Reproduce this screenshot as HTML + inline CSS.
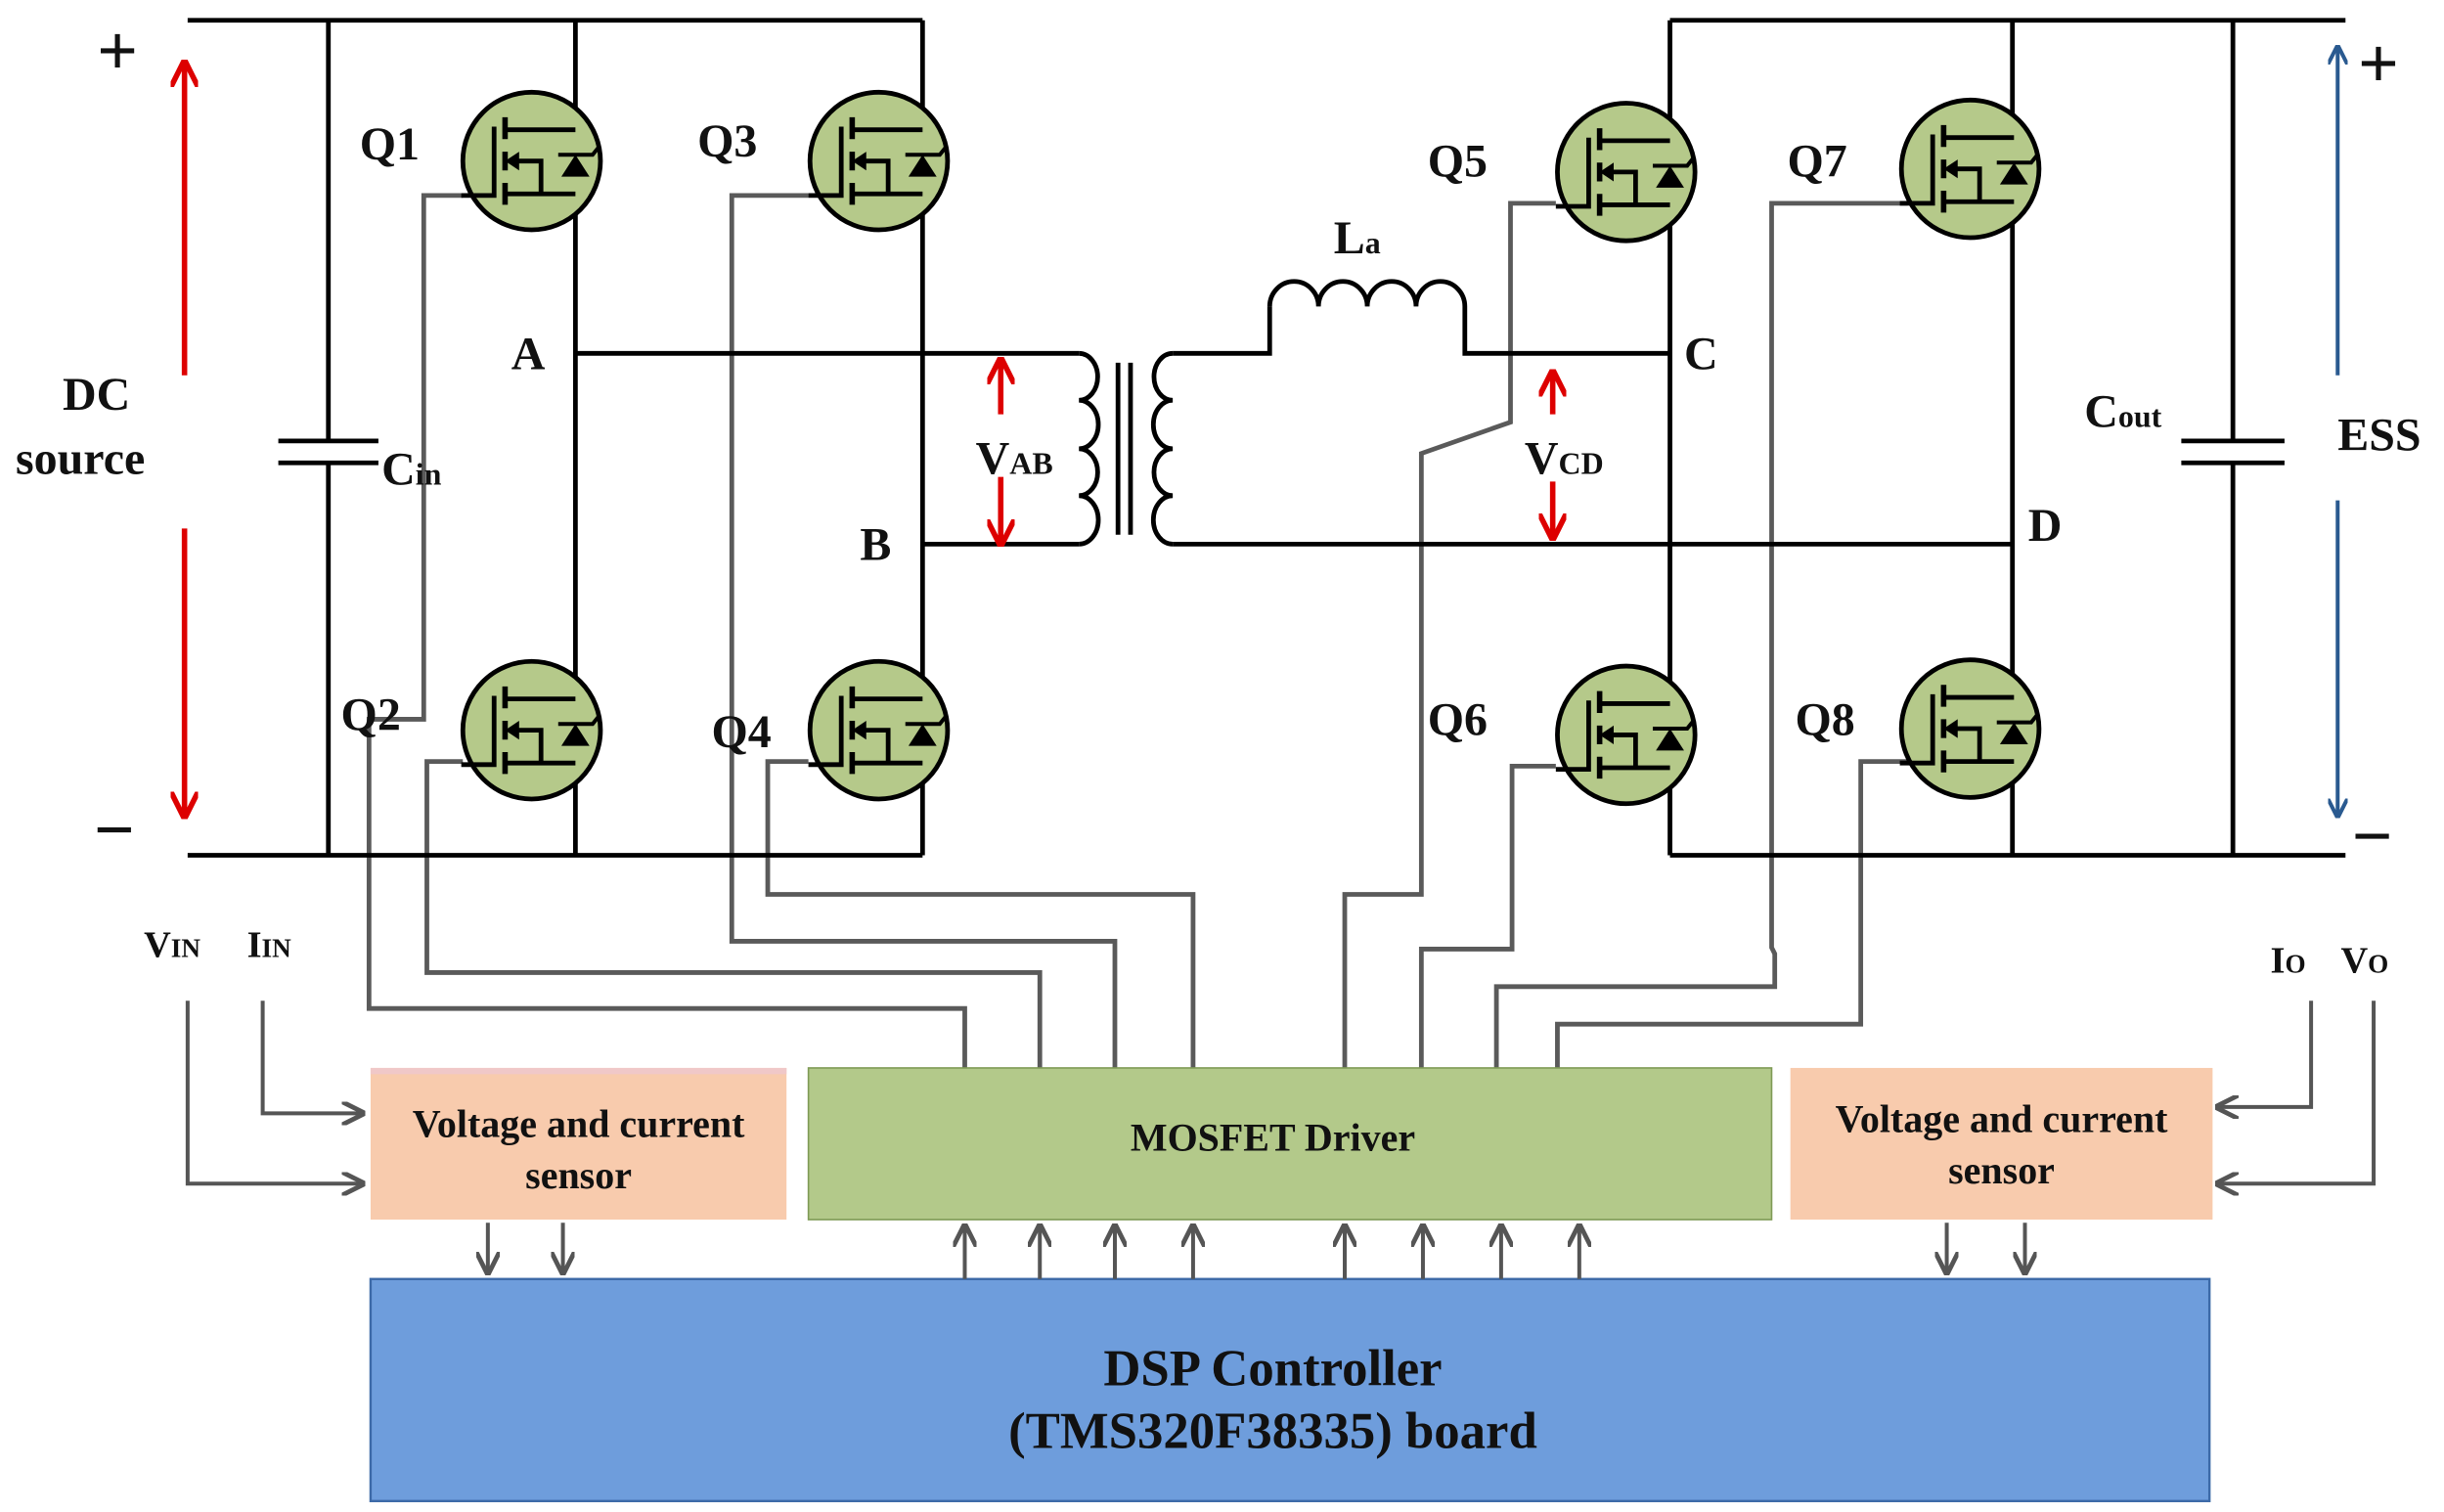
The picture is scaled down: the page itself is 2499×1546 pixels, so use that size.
<!DOCTYPE html>
<html><head><meta charset="utf-8"><style>
html,body{margin:0;padding:0;background:#fff;}
svg{display:block;}
text{font-family:"Liberation Serif",serif;font-weight:bold;fill:#111;}
</style></head><body>
<svg width="2499" height="1546" viewBox="0 0 1563 967" preserveAspectRatio="none" xmlns="http://www.w3.org/2000/svg">
<defs>
<g id="q">
<circle cx="0" cy="0" r="44" fill="#b5c98a" stroke="#000" stroke-width="3"/>
<path d="M-45,22 H-24 V-22" fill="none" stroke="#000" stroke-width="3"/>
<path d="M-17,-28 V-14 M-17,-6 V6 M-17,14 V28" stroke="#000" stroke-width="3.5"/>
<path d="M-17,-20 H28 M-17,21 H28 M-10,0 H6 V21" fill="none" stroke="#000" stroke-width="3"/>
<polygon points="-17,0 -8,-6 -8,6" fill="#000"/>
<polygon points="28,-4 19,10 37,10" fill="#000"/>
<path d="M17,-4 H39 L43,-9" fill="none" stroke="#000" stroke-width="2.5"/>
</g>
<marker id="ar" viewBox="0 0 10 10" refX="9" refY="5" markerWidth="6" markerHeight="6" orient="auto"><path d="M0,0 L10,5 L0,10" fill="none" stroke="#555" stroke-width="2"/></marker>
<marker id="rr" viewBox="0 0 10 10" refX="9" refY="5" markerWidth="5" markerHeight="5" orient="auto"><path d="M0,0 L10,5 L0,10" fill="none" stroke="#d00" stroke-width="2"/></marker>
<marker id="br" viewBox="0 0 10 10" refX="9" refY="5" markerWidth="5" markerHeight="5" orient="auto"><path d="M0,0 L10,5 L0,10" fill="none" stroke="#2a5a90" stroke-width="2"/></marker>
</defs>

<!-- gray gate wires -->
<g fill="none" stroke="#5a5a5a" stroke-width="3">
<path d="M296,125 H271 V460 H236 V645 H617 V683"/>
<path d="M296,487 H273 V622 H665 V683"/>
<path d="M517,125 H468 V602 H713 V683"/>
<path d="M517,487 H491 V572 H763 V683"/>
<path d="M995,130 H966 V270 L909,290 V572 H860 V683"/>
<path d="M995,490 H967 V607 H909 V683"/>
<path d="M1220,130 H1133 V606 L1135,610 V631 H957 V683"/>
<path d="M1220,487 H1190 V655 H996 V683"/>
</g>

<!-- black power circuit -->
<g fill="none" stroke="#000" stroke-width="3">
<path d="M120,13 H590 M120,547 H590"/>
<path d="M210,13 V282 M210,296 V547 M178,282 H242 M178,296 H242"/>
<path d="M368,13 V547 M590,13 V547"/>
<path d="M368,226 H690 M590,348 H690"/>
<path d="M690,226 a12,15 0 0 1 0,30 a12,15 0 0 1 0,31 a12,15 0 0 1 0,30 a12,15 0 0 1 0,31"/>
<path d="M715,232 V342 M723,232 V342"/>
<path d="M750,226 a12,15 0 0 0 0,30 a12,15 0 0 0 0,31 a12,15 0 0 0 0,30 a12,15 0 0 0 0,31"/>
<path d="M750,226 H780 V226 M780,226 H812 V196"/>
<path d="M812,196 a15.6,16 0 0 1 31.2,0 a15.6,16 0 0 1 31.2,0 a15.6,16 0 0 1 31.2,0 a15.6,16 0 0 1 31.2,0 V226 H1068"/>
<path d="M750,348 H1287"/>
<path d="M1068,13 H1500 M1068,547 H1500"/>
<path d="M1068,13 V547 M1287,13 V547"/>
<path d="M1428,13 V282 M1428,296 V547 M1395,282 H1461 M1395,296 H1461"/>
</g>

<use href="#q" x="340" y="103"/>
<use href="#q" x="340" y="467"/>
<use href="#q" x="562" y="103"/>
<use href="#q" x="562" y="467"/>
<use href="#q" x="1040" y="110"/>
<use href="#q" x="1040" y="470"/>
<use href="#q" x="1260" y="108"/>
<use href="#q" x="1260" y="466"/>

<!-- red / blue arrows -->
<g stroke="#d00" stroke-width="3.5" fill="none">
<path d="M118,240 V40" marker-end="url(#rr)"/>
<path d="M118,338 V522" marker-end="url(#rr)"/>
<path d="M640,265 V230" marker-end="url(#rr)"/>
<path d="M640,305 V348" marker-end="url(#rr)"/>
<path d="M993,265 V238" marker-end="url(#rr)"/>
<path d="M993,308 V344" marker-end="url(#rr)"/>
</g>
<g stroke="#2a5a90" stroke-width="2.5" fill="none">
<path d="M1495,240 V30" marker-end="url(#br)"/>
<path d="M1495,320 V522" marker-end="url(#br)"/>
</g>

<!-- labels -->
<g font-size="30">
<text x="62" y="48" font-size="46" font-weight="normal">+</text>
<text x="60" y="546" font-size="46" font-weight="normal">−</text>
<text x="1508" y="56" font-size="46" font-weight="normal">+</text>
<text x="1504" y="550" font-size="46" font-weight="normal">−</text>
<text x="40" y="262">DC</text>
<text x="10" y="303">source</text>
<text x="244" y="310">C<tspan font-size="20">in</tspan></text>
<text x="230" y="102">Q1</text>
<text x="218" y="467">Q2</text>
<text x="446" y="100">Q3</text>
<text x="455" y="478">Q4</text>
<text x="913" y="113">Q5</text>
<text x="913" y="470">Q6</text>
<text x="1143" y="113">Q7</text>
<text x="1148" y="470">Q8</text>
<text x="327" y="236">A</text>
<text x="550" y="358">B</text>
<text x="1077" y="236">C</text>
<text x="1297" y="346">D</text>
<text x="853" y="162">L<tspan font-size="20">a</tspan></text>
<text x="624" y="303">V<tspan font-size="20">AB</tspan></text>
<text x="975" y="303">V<tspan font-size="20">CD</tspan></text>
<text x="1333" y="273">C<tspan font-size="20">out</tspan></text>
<text x="1495" y="288">ESS</text>
<text x="92" y="612" font-size="24" font-weight="normal">V<tspan font-size="17">IN</tspan></text>
<text x="158" y="612" font-size="24" font-weight="normal">I<tspan font-size="17">IN</tspan></text>
<text x="1452" y="622" font-size="24" font-weight="normal">I<tspan font-size="17">O</tspan></text>
<text x="1497" y="622" font-size="24" font-weight="normal">V<tspan font-size="17">O</tspan></text>
</g>

<!-- sensor input wires -->
<g fill="none" stroke="#555" stroke-width="2.5">
<path d="M120,640 V757 H232" marker-end="url(#ar)"/>
<path d="M168,640 V712 H232" marker-end="url(#ar)"/>
<path d="M1478,640 V708 H1418" marker-end="url(#ar)"/>
<path d="M1518,640 V757 H1418" marker-end="url(#ar)"/>
</g>

<!-- boxes -->
<rect x="237" y="683" width="266" height="97" fill="#f8cbad"/>
<rect x="237" y="683" width="266" height="4" fill="#f0c8c8"/>
<rect x="517" y="683" width="616" height="97" fill="#b3c98a" stroke="#7e9a55" stroke-width="1"/>
<rect x="1145" y="683" width="270" height="97" fill="#f8cbad"/>
<rect x="237" y="818" width="1176" height="142" fill="#6e9ddc" stroke="#3d6aa8" stroke-width="1.5"/>
<g font-size="25" text-anchor="middle">
<text x="370" y="727">Voltage and current</text>
<text x="370" y="760">sensor</text>
<text x="814" y="736">MOSFET Driver</text>
<text x="1280" y="724">Voltage and current</text>
<text x="1280" y="757">sensor</text>
<text x="814" y="886" font-size="33">DSP Controller</text>
<text x="814" y="926" font-size="33">(TMS320F38335) board</text>
</g>

<!-- vertical arrows -->
<g fill="none" stroke="#555" stroke-width="2.5">
<path d="M312,782 V814" marker-end="url(#ar)"/>
<path d="M360,782 V814" marker-end="url(#ar)"/>
<path d="M1245,782 V814" marker-end="url(#ar)"/>
<path d="M1295,782 V814" marker-end="url(#ar)"/>
<path d="M617,818 V784" marker-end="url(#ar)"/>
<path d="M665,818 V784" marker-end="url(#ar)"/>
<path d="M713,818 V784" marker-end="url(#ar)"/>
<path d="M763,818 V784" marker-end="url(#ar)"/>
<path d="M860,818 V784" marker-end="url(#ar)"/>
<path d="M910,818 V784" marker-end="url(#ar)"/>
<path d="M960,818 V784" marker-end="url(#ar)"/>
<path d="M1010,818 V784" marker-end="url(#ar)"/>
</g>
</svg>
</body></html>
